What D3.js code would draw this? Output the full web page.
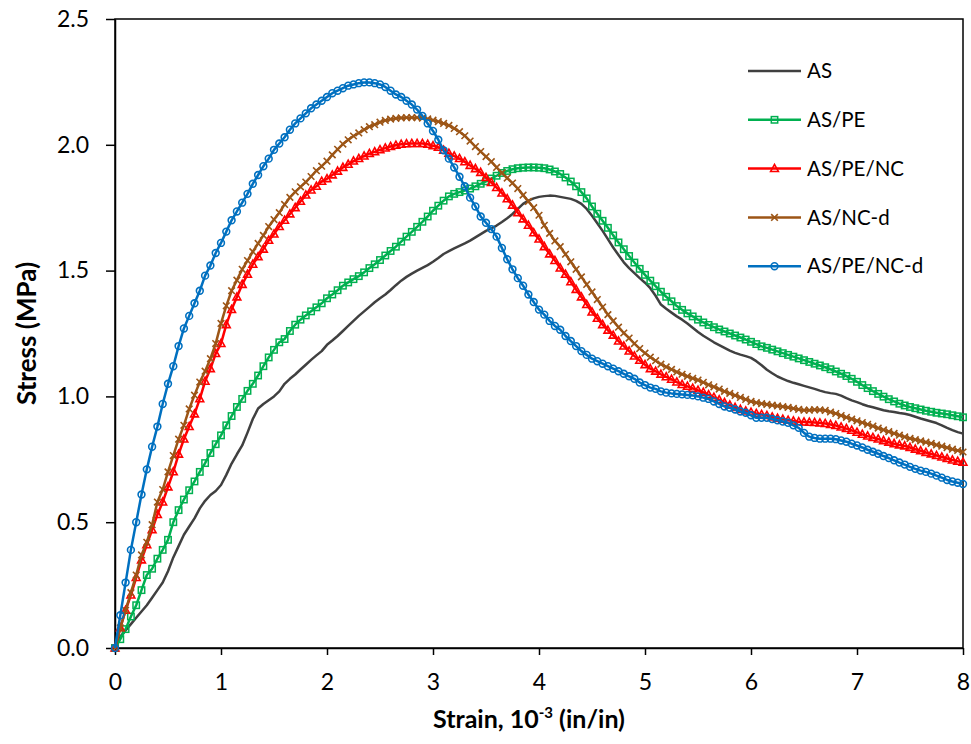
<!DOCTYPE html>
<html>
<head>
<meta charset="utf-8">
<script src="https://cdn.jsdelivr.net/npm/d3@7"></script>
<style>
  html, body { margin: 0; padding: 0; background: #fff; }
  svg { display: block; }
  text { font-family: Lato, "Open Sans", "DejaVu Sans", sans-serif; fill: #000; }
</style>
</head>
<body>
<svg id="chart" width="971" height="744"></svg>
<script>
// ---- data (stress in MPa, sampled every 0.05 x10^-3 strain from 0 to 8) ----
const strainStep = 0.05;
const xTicks = [0, 1, 2, 3, 4, 5, 6, 7, 8];
const yTicks = [0.0, 0.5, 1.0, 1.5, 2.0, 2.5];
const seriesNames = ["AS", "AS/PE", "AS/PE/NC", "AS/NC-d", "AS/PE/NC-d"];

const stressAS = [
  0, 0.045, 0.07, 0.095, 0.12, 0.145, 0.17, 0.2, 0.23, 0.26,
  0.305, 0.36, 0.405, 0.45, 0.483, 0.515, 0.555, 0.585, 0.608, 0.624,
  0.648, 0.688, 0.733, 0.77, 0.805, 0.856, 0.91, 0.952, 0.97, 0.985,
  1.0, 1.02, 1.05, 1.07, 1.087, 1.107, 1.126, 1.145, 1.163, 1.18,
  1.205, 1.222, 1.24, 1.26, 1.28, 1.3, 1.32, 1.338, 1.356, 1.374,
  1.39, 1.405, 1.423, 1.442, 1.46, 1.475, 1.488, 1.5, 1.511, 1.522,
  1.535, 1.55, 1.566, 1.577, 1.588, 1.598, 1.608, 1.619, 1.632, 1.645,
  1.658, 1.668, 1.679, 1.693, 1.708, 1.725, 1.745, 1.765, 1.778, 1.787,
  1.793, 1.796, 1.798, 1.797, 1.793, 1.789, 1.785, 1.777, 1.765, 1.745,
  1.718, 1.688, 1.658, 1.625, 1.592, 1.562, 1.533, 1.51, 1.49, 1.47,
  1.452, 1.43, 1.4, 1.365, 1.348, 1.333, 1.318, 1.305, 1.29, 1.273,
  1.256, 1.241, 1.228, 1.215, 1.204, 1.193, 1.182, 1.173, 1.166, 1.16,
  1.153, 1.14, 1.124, 1.106, 1.092, 1.079, 1.07, 1.061, 1.054, 1.048,
  1.042, 1.036, 1.03, 1.023, 1.017, 1.013, 1.01, 1.003, 0.993, 0.984,
  0.977, 0.969, 0.962, 0.957, 0.951, 0.945, 0.941, 0.938, 0.934, 0.931,
  0.926, 0.919, 0.912, 0.906, 0.9, 0.894, 0.885, 0.875, 0.866, 0.858,
  0.852
];

const stressASPE = [
  0, 0.035, 0.075, 0.125, 0.17, 0.23, 0.29, 0.315, 0.355, 0.39,
  0.43, 0.50, 0.548, 0.59, 0.627, 0.662, 0.70, 0.735, 0.775, 0.81,
  0.845, 0.885, 0.922, 0.958, 0.99, 1.022, 1.05, 1.083, 1.12, 1.155,
  1.185, 1.215, 1.228, 1.26, 1.285, 1.305, 1.322, 1.338, 1.354, 1.37,
  1.39, 1.405, 1.422, 1.44, 1.453, 1.466, 1.478, 1.493, 1.51, 1.525,
  1.542, 1.56, 1.578, 1.595, 1.615, 1.635, 1.654, 1.674, 1.694, 1.715,
  1.738, 1.758, 1.778, 1.795, 1.805, 1.812, 1.818, 1.826, 1.835, 1.845,
  1.855, 1.866, 1.877, 1.888, 1.896, 1.903, 1.907, 1.909, 1.91, 1.91,
  1.909, 1.907, 1.902, 1.894, 1.884, 1.87, 1.854, 1.835, 1.812, 1.787,
  1.755, 1.726, 1.698, 1.67, 1.64, 1.612, 1.585, 1.558, 1.532, 1.507,
  1.483, 1.46, 1.438, 1.416, 1.396, 1.378, 1.359, 1.344, 1.33, 1.318,
  1.305, 1.294, 1.284, 1.275, 1.266, 1.258, 1.25, 1.242, 1.234, 1.226,
  1.217, 1.208, 1.199, 1.193, 1.186, 1.179, 1.172, 1.165, 1.158, 1.151,
  1.144, 1.137, 1.13, 1.123, 1.116, 1.108, 1.099, 1.09, 1.081, 1.07,
  1.058, 1.045, 1.033, 1.021, 1.01, 0.999, 0.989, 0.98, 0.971, 0.964,
  0.958, 0.953, 0.948, 0.943, 0.939, 0.935, 0.932, 0.929, 0.925, 0.921,
  0.917
];

const stressASPENC = [
  0, 0.08, 0.15, 0.21, 0.28, 0.35, 0.41, 0.47, 0.53, 0.58,
  0.64, 0.70, 0.77, 0.83, 0.88, 0.93, 0.99, 1.06, 1.11, 1.17,
  1.21, 1.285, 1.345, 1.395, 1.445, 1.485, 1.525, 1.555, 1.585, 1.62,
  1.645, 1.675, 1.70, 1.725, 1.75, 1.775, 1.80, 1.82, 1.835, 1.855,
  1.865, 1.88, 1.895, 1.91, 1.922, 1.935, 1.945, 1.955, 1.965, 1.972,
  1.98, 1.987, 1.993, 1.998, 2.002, 2.004, 2.005, 2.005, 2.005, 2.002,
  1.996, 1.99, 1.978, 1.966, 1.955, 1.945, 1.932, 1.918, 1.905, 1.89,
  1.87, 1.85, 1.83, 1.808, 1.785, 1.76, 1.73, 1.705, 1.68, 1.65,
  1.625, 1.595, 1.566, 1.54, 1.51, 1.485, 1.455, 1.425, 1.395, 1.365,
  1.335, 1.31, 1.285, 1.263, 1.243, 1.22, 1.2, 1.18, 1.16, 1.143,
  1.126, 1.11, 1.10, 1.088, 1.078, 1.068, 1.057, 1.047, 1.04, 1.032,
  1.024, 1.016, 1.006, 0.996, 0.986, 0.975, 0.965, 0.956, 0.948, 0.942,
  0.937, 0.932, 0.928, 0.924, 0.918, 0.913, 0.909, 0.905, 0.902, 0.899,
  0.898, 0.897, 0.896, 0.894, 0.892, 0.888, 0.884, 0.878, 0.872, 0.865,
  0.857, 0.849, 0.842, 0.836, 0.83, 0.824, 0.818, 0.812, 0.807, 0.803,
  0.797, 0.79, 0.784, 0.777, 0.771, 0.765, 0.759, 0.753, 0.747, 0.742,
  0.738
];

const stressASNCd = [
  0, 0.08, 0.15, 0.22, 0.29, 0.37, 0.42, 0.49, 0.58, 0.63,
  0.70, 0.765, 0.83, 0.885, 0.95, 1.005, 1.057, 1.10, 1.15, 1.21,
  1.29, 1.36, 1.42, 1.462, 1.505, 1.54, 1.575, 1.608, 1.64, 1.675,
  1.703, 1.73, 1.763, 1.791, 1.813, 1.833, 1.852, 1.874, 1.897, 1.915,
  1.935, 1.96, 1.982, 2.003, 2.02, 2.035, 2.047, 2.06, 2.072, 2.08,
  2.09, 2.097, 2.102, 2.105, 2.107, 2.108, 2.108, 2.108, 2.106, 2.103,
  2.098, 2.092, 2.085, 2.077, 2.065, 2.052, 2.036, 2.015, 1.993, 1.973,
  1.953, 1.933, 1.91, 1.888, 1.868, 1.848, 1.826, 1.80, 1.775, 1.75,
  1.72, 1.68, 1.648, 1.618, 1.595, 1.565, 1.535, 1.505, 1.475, 1.445,
  1.415, 1.385, 1.355, 1.325, 1.30, 1.275, 1.252, 1.232, 1.21, 1.19,
  1.172, 1.156, 1.142, 1.128, 1.117, 1.107, 1.097, 1.088, 1.08, 1.072,
  1.065, 1.056, 1.046, 1.038, 1.029, 1.02, 1.012, 1.004, 0.996, 0.988,
  0.98, 0.975, 0.971, 0.968, 0.965, 0.962, 0.959, 0.956, 0.952, 0.948,
  0.945, 0.945, 0.947, 0.946, 0.944, 0.938, 0.932, 0.924, 0.917, 0.91,
  0.903, 0.896, 0.889, 0.882, 0.874, 0.867, 0.86, 0.853, 0.846, 0.839,
  0.833, 0.828, 0.823, 0.818, 0.813, 0.807, 0.802, 0.796, 0.79, 0.785,
  0.779
];

const stressASPENCd = [
  0, 0.13, 0.26, 0.39, 0.50, 0.61, 0.71, 0.80, 0.88, 0.97,
  1.05, 1.12, 1.20, 1.27, 1.32, 1.37, 1.42, 1.48, 1.52, 1.57,
  1.61, 1.655, 1.70, 1.735, 1.77, 1.805, 1.845, 1.88, 1.915, 1.945,
  1.98, 2.005, 2.03, 2.06, 2.085, 2.105, 2.125, 2.145, 2.16, 2.175,
  2.19, 2.205, 2.215, 2.225, 2.235, 2.24, 2.245, 2.248, 2.248, 2.245,
  2.24, 2.23, 2.215, 2.20, 2.19, 2.175, 2.16, 2.14, 2.115, 2.085,
  2.055, 2.02, 1.978, 1.945, 1.91, 1.873, 1.835, 1.79, 1.755, 1.715,
  1.69, 1.665, 1.635, 1.59, 1.545, 1.505, 1.47, 1.44, 1.405, 1.375,
  1.345, 1.325, 1.30, 1.28, 1.265, 1.24, 1.22, 1.20, 1.18, 1.165,
  1.15, 1.14, 1.13, 1.12, 1.11, 1.10, 1.09, 1.08, 1.07, 1.055,
  1.045, 1.035, 1.03, 1.02, 1.015, 1.012, 1.01, 1.008, 1.006, 1.004,
  1.00, 0.995, 0.99, 0.98, 0.97, 0.96, 0.955, 0.948, 0.94, 0.935,
  0.925, 0.915, 0.915, 0.915, 0.91, 0.905, 0.90, 0.895, 0.885, 0.875,
  0.855, 0.84, 0.835, 0.832, 0.832, 0.832, 0.83, 0.825, 0.82, 0.812,
  0.805, 0.797, 0.788, 0.78, 0.772, 0.763, 0.755, 0.746, 0.737, 0.729,
  0.72, 0.712, 0.705, 0.70, 0.693, 0.685, 0.677, 0.668, 0.662, 0.657,
  0.652
];

const seriesValues = [stressAS, stressASPE, stressASPENC, stressASNCd, stressASPENCd];
const seriesColors = ["#404040", "#00B050", "#FF0000", "#9C5516", "#0070C0"];
const seriesMarkers = ["none", "square", "triangle", "cross", "circle"];

// ---- layout ----
const svg = d3.select("#chart");
const margin = { left: 115, top: 19, right: 8, bottom: 96 };
const W = 971, H = 744;
const x = d3.scaleLinear().domain([0, 8]).range([margin.left, W - margin.right]);
const y = d3.scaleLinear().domain([0, 2.5]).range([H - margin.bottom, margin.top]);

// frame
svg.append("rect")
  .attr("x", x(0)).attr("y", y(2.5))
  .attr("width", x(8) - x(0)).attr("height", y(0) - y(2.5))
  .attr("fill", "none").attr("stroke", "#000").attr("stroke-width", 1.5);

// x axis
const xAxis = svg.append("g")
  .attr("transform", `translate(0,${y(0)})`)
  .call(d3.axisBottom(x).tickValues(xTicks).tickFormat(d3.format("d")).tickSize(7).tickSizeOuter(0));
xAxis.select(".domain").attr("stroke", "#000").attr("stroke-width", 1.5);
xAxis.selectAll(".tick line").attr("stroke", "#000").attr("stroke-width", 1.5);
xAxis.selectAll(".tick text").attr("font-size", 23).attr("dy", 0).attr("y", 42)
  .style("font-family", "Lato, sans-serif");

// y axis
const yAxis = svg.append("g")
  .attr("transform", `translate(${x(0)},0)`)
  .call(d3.axisLeft(y).tickValues(yTicks).tickFormat(d3.format(".1f")).tickSize(9).tickSizeOuter(0));
yAxis.select(".domain").attr("stroke", "#000").attr("stroke-width", 1.5);
yAxis.selectAll(".tick line").attr("stroke", "#000").attr("stroke-width", 1.5);
yAxis.selectAll(".tick text").attr("font-size", 23).attr("x", -26)
  .style("font-family", "Lato, sans-serif");

// axis titles
const xt = svg.append("text")
  .attr("x", 529).attr("y", 728)
  .attr("text-anchor", "middle")
  .attr("font-size", 25).attr("font-weight", "bold");
xt.append("tspan").text("Strain, 10");
xt.append("tspan").attr("font-size", 15).attr("dy", -10).text("-3");
xt.append("tspan").attr("dy", 10).text(" (in/in)");

svg.append("text")
  .attr("transform", `translate(36,${(y(0) + y(2.5)) / 2}) rotate(-90)`)
  .attr("text-anchor", "middle")
  .attr("font-size", 26).attr("font-weight", "bold")
  .text("Stress (MPa)");

// marker drawing
function drawMarker(g, type, color) {
  if (type === "square") {
    g.append("rect").attr("x", -3.2).attr("y", -3.2).attr("width", 6.4).attr("height", 6.4)
      .attr("fill", "none").attr("stroke", color).attr("stroke-width", 1.5);
  } else if (type === "triangle") {
    g.append("path").attr("d", "M0,-4.2L3.9,2.9L-3.9,2.9Z")
      .attr("fill", "none").attr("stroke", color).attr("stroke-width", 1.6);
  } else if (type === "cross") {
    g.append("path").attr("d", "M-3.3,-3.3L3.3,3.3M-3.3,3.3L3.3,-3.3")
      .attr("fill", "none").attr("stroke", color).attr("stroke-width", 1.6);
  } else if (type === "circle") {
    g.append("circle").attr("r", 3.4)
      .attr("fill", "none").attr("stroke", color).attr("stroke-width", 1.6);
  }
}

const line = d3.line().x(d => x(d[0])).y(d => y(d[1]));

seriesValues.forEach((vals, si) => {
  const pts = vals.map((v, i) => [i * strainStep, v]);
  const color = seriesColors[si];
  const g = svg.append("g");
  g.append("path").datum(pts).attr("d", line)
    .attr("fill", "none").attr("stroke", color)
    .attr("stroke-width", 2.5).attr("stroke-linejoin", "round");
  if (seriesMarkers[si] !== "none") {
    g.selectAll("g.m").data(pts).enter().append("g").attr("class", "m")
      .attr("transform", d => `translate(${x(d[0])},${y(d[1])})`)
      .each(function () { drawMarker(d3.select(this), seriesMarkers[si], color); });
  }
});

// legend
const legend = svg.append("g");
const legY0 = 71, legDy = 48.8, legX0 = 748, legX1 = 801;
seriesNames.forEach((name, i) => {
  const ly = legY0 + i * legDy;
  const lg = legend.append("g");
  lg.append("line").attr("x1", legX0).attr("x2", legX1).attr("y1", ly).attr("y2", ly)
    .attr("stroke", seriesColors[i]).attr("stroke-width", 2.5);
  if (seriesMarkers[i] !== "none") {
    const mg = lg.append("g").attr("transform", `translate(${(legX0 + legX1) / 2},${ly})`);
    drawMarker(mg, seriesMarkers[i], seriesColors[i]);
  }
  lg.append("text").attr("x", 807).attr("y", ly).attr("dy", "0.35em")
    .attr("font-size", 20.5).text(name);
});
</script>
</body>
</html>
